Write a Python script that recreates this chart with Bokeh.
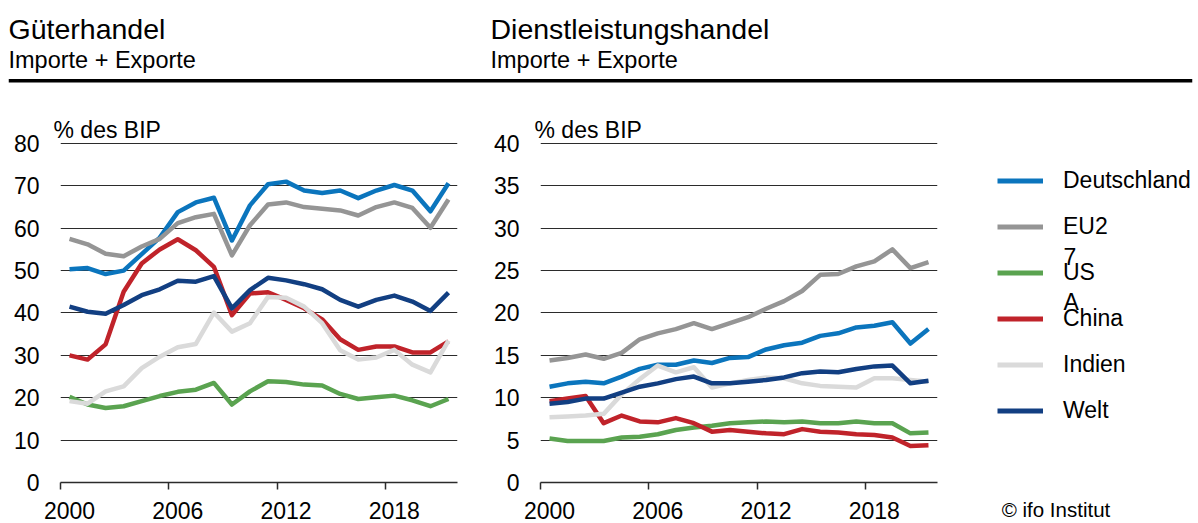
from bokeh.plotting import figure
from bokeh.layouts import column, row
from bokeh.models import Range1d, FixedTicker, Label, Legend, LegendItem, Span
from bokeh.embed import file_html
from bokeh.resources import INLINE

# ---------------- data ----------------
years = list(range(2000, 2022))
series_names = ["Deutschland", "EU27", "USA", "China", "Indien", "Welt"]
legend_labels = ["Deutschland", "EU2", "US", "China", "Indien", "Welt"]
colors = ["#0b75bd", "#959595", "#5aa350", "#c0232a", "#dadada", "#123f82"]

# Güterhandel (% des BIP)
goods = {
    "Deutschland": [50.3, 50.6, 49.2, 50.0, 53.9, 57.8, 63.8, 66.1, 67.2, 57.1, 65.4, 70.4, 71.0, 68.9, 68.3, 68.9, 67.1, 68.9, 70.2, 68.9, 64.0, 70.6],
    "EU27":        [57.5, 56.2, 54.0, 53.4, 55.7, 57.5, 61.2, 62.6, 63.4, 53.6, 60.7, 65.6, 66.1, 65.0, 64.6, 64.2, 63.0, 65.0, 66.1, 64.8, 60.1, 66.8],
    "USA":         [20.2, 18.4, 17.6, 18.0, 19.2, 20.4, 21.4, 21.9, 23.5, 18.4, 21.5, 23.9, 23.7, 23.1, 22.9, 20.9, 19.7, 20.1, 20.5, 19.4, 18.0, 19.7],
    "China":       [30.0, 29.0, 32.6, 45.0, 51.7, 55.0, 57.4, 54.8, 50.9, 39.5, 44.6, 44.9, 43.1, 41.1, 38.5, 33.8, 31.3, 32.1, 32.1, 30.7, 30.7, 33.3],
    "Indien":      [19.2, 18.6, 21.5, 22.7, 27.0, 29.7, 31.9, 32.7, 40.1, 35.6, 37.6, 43.8, 43.6, 41.5, 37.6, 31.2, 29.0, 29.5, 31.3, 27.8, 26.0, 33.5],
    "Welt":        [41.5, 40.3, 39.8, 41.9, 44.2, 45.6, 47.6, 47.4, 48.7, 41.1, 45.4, 48.3, 47.7, 46.8, 45.6, 43.1, 41.5, 43.1, 44.1, 42.7, 40.5, 44.8],
}
# Dienstleistungshandel (% des BIP)
services = {
    "Deutschland": [11.3, 11.7, 11.9, 11.7, 12.5, 13.4, 13.9, 13.9, 14.4, 14.1, 14.7, 14.8, 15.7, 16.2, 16.5, 17.3, 17.6, 18.3, 18.5, 18.9, 16.4, 18.1],
    "EU27":        [14.4, 14.7, 15.1, 14.6, 15.3, 16.9, 17.6, 18.1, 18.8, 18.1, 18.8, 19.5, 20.5, 21.4, 22.6, 24.5, 24.6, 25.5, 26.1, 27.5, 25.3, 26.0],
    "USA":         [5.2, 4.9, 4.9, 4.9, 5.3, 5.4, 5.7, 6.2, 6.5, 6.7, 7.0, 7.1, 7.2, 7.1, 7.2, 7.0, 7.0, 7.2, 7.0, 7.0, 5.8, 5.9],
    "China":       [9.6, 9.9, 10.2, 7.0, 7.9, 7.2, 7.1, 7.6, 7.0, 6.0, 6.2, 6.0, 5.8, 5.7, 6.3, 6.0, 5.9, 5.7, 5.6, 5.3, 4.3, 4.4],
    "Indien":      [7.7, 7.8, 7.9, 8.1, 10.4, 12.2, 13.8, 13.0, 13.6, 11.2, 11.7, 12.1, 12.4, 12.3, 11.7, 11.4, 11.3, 11.2, 12.3, 12.3, 12.1, 11.9],
    "Welt":        [9.3, 9.5, 9.9, 9.9, 10.6, 11.3, 11.7, 12.2, 12.5, 11.7, 11.7, 11.9, 12.1, 12.4, 12.9, 13.1, 13.0, 13.4, 13.7, 13.8, 11.7, 12.0],
}
x_tick_labels = ["2000", "2006", "2012", "2018"]
goods_yticks = [0, 10, 20, 30, 40, 50, 60, 70, 80]
services_yticks = [0, 5, 10, 15, 20, 25, 30, 35, 40]

FONT = "Liberation Sans"
GRID = "#2b2b2b"
ROW_H = 423
TOP_B = 42        # border above plot area
BOT_B = 40        # border below plot area
LW = 4.5

# ---------------- header ----------------
top = figure(width=1198, height=100, x_range=Range1d(0, 1184), y_range=Range1d(100, 0),
             output_backend="svg", toolbar_location=None,
             min_border_left=8, min_border_right=6, min_border_top=0, min_border_bottom=0,
             outline_line_color=None)
top.axis.visible = False
top.grid.visible = False
for xpos, title in [(0, "Güterhandel"), (482, "Dienstleistungshandel")]:
    top.add_layout(Label(x=xpos, y=28.3, text=title, text_font=FONT, text_font_size="28.5px",
                         text_color="black", text_baseline="middle"))
    top.add_layout(Label(x=xpos, y=59.7, text="Importe + Exporte", text_font=FONT,
                         text_font_size="23.5px", text_color="black", text_baseline="middle"))
top.add_layout(Span(location=80.3, dimension="width", line_color="black", line_width=3.5))


def make_chart(data, yticks, width, border_left, label_dx):
    ymax = yticks[-1]
    frame_h = ROW_H - TOP_B - BOT_B
    # one pixel of headroom so the top grid line is not clipped
    yend = ymax * frame_h / (frame_h - 1)
    p = figure(width=width, height=ROW_H, x_range=Range1d(2000, 2022), y_range=Range1d(0, yend),
               output_backend="svg", toolbar_location=None,
               min_border_left=border_left, min_border_right=31,
               min_border_top=TOP_B, min_border_bottom=BOT_B, outline_line_color=None)
    xs = [yr + 0.5 for yr in years]
    for name, col in zip(series_names, colors):
        p.line(xs, data[name], line_color=col, line_width=LW, line_join="round")
    # x axis: labels centred in the year slot, tick marks on slot boundary
    ticks_major = [int(t) + 0.5 for t in x_tick_labels]
    ticks_minor = [int(t) for t in x_tick_labels]
    p.xaxis.ticker = FixedTicker(ticks=ticks_major, minor_ticks=ticks_minor)
    p.xaxis.major_label_overrides = {tm: lab for tm, lab in zip(ticks_major, x_tick_labels)}
    p.xaxis.major_tick_out = 0
    p.xaxis.major_tick_in = 0
    p.xaxis.minor_tick_out = 7
    p.xaxis.minor_tick_in = 0
    p.xaxis.minor_tick_line_color = GRID
    p.xaxis.minor_tick_line_width = 1.5
    p.xaxis.axis_line_color = GRID
    p.xaxis.axis_line_width = 1.5
    p.xaxis.major_label_standoff = 12
    p.xgrid.visible = False
    # y axis
    p.yaxis.ticker = FixedTicker(ticks=yticks)
    p.yaxis.axis_line_color = None
    p.yaxis.major_tick_line_color = None
    p.yaxis.minor_tick_line_color = None
    p.yaxis.major_tick_out = 0
    p.yaxis.major_tick_in = 0
    p.yaxis.minor_tick_out = 0
    p.yaxis.minor_tick_in = 0
    p.yaxis.major_label_standoff = 21
    p.ygrid.ticker = FixedTicker(ticks=yticks)
    p.ygrid.grid_line_color = GRID
    p.ygrid.grid_line_width = 1.2
    for ax in (p.xaxis, p.yaxis):
        ax.major_label_text_font = FONT
        ax.major_label_text_font_size = "23px"
        ax.major_label_text_color = "black"
    # unit label above the plot area
    p.title.text = "% des BIP"
    p.title.text_font = FONT
    p.title.text_font_size = "23px"
    p.title.text_font_style = "normal"
    p.title.text_color = "black"
    p.title.align = "left"
    p.title.offset = label_dx
    p.title.standoff = 0
    return p


left = make_chart(goods, goods_yticks, 488, 60, -7)
right = make_chart(services, services_yticks, 480, 52, -6)

# ---------------- legend panel ----------------
leg_h = ROW_H - TOP_B - BOT_B
leg = figure(width=230, height=ROW_H, x_range=Range1d(0, 230), y_range=Range1d(leg_h, 0),
             output_backend="svg", toolbar_location=None,
             min_border_left=0, min_border_right=0, min_border_top=TOP_B, min_border_bottom=BOT_B,
             outline_line_color=None)
leg.yaxis.visible = False
leg.grid.visible = False
# legend proxies (series lie outside this panel's x range, only their swatches show)
xs_leg = [yr + 0.5 for yr in years]
proxies = [leg.line(xs_leg, services[name], line_color=col, line_width=5)
           for name, col in zip(series_names, colors)]
legend = Legend(items=[LegendItem(label=lab, renderers=[r]) for lab, r in zip(legend_labels, proxies)],
                location=(29, 58), glyph_width=46, glyph_height=27, label_height=27,
                label_standoff=20, spacing=19, padding=0, margin=0,
                border_line_color=None, background_fill_alpha=0,
                label_text_font=FONT, label_text_font_size="23px", label_text_color="black")
leg.add_layout(legend)
# wrapped remainder of the legend labels, as in the original
for txt, ypos in [("7", 114.0), ("A", 159.5)]:
    leg.add_layout(Label(x=95, y=ypos, text=txt, text_font=FONT, text_font_size="23px",
                         text_color="black", text_baseline="middle"))
# source note, set as the panel's only axis label
credit_pos = 87.5
leg.xaxis.ticker = FixedTicker(ticks=[credit_pos])
leg.xaxis.major_label_overrides = {credit_pos: "© ifo Institut"}
leg.xaxis.axis_line_color = None
leg.xaxis.major_tick_line_color = None
leg.xaxis.minor_tick_line_color = None
leg.xaxis.major_tick_out = 0
leg.xaxis.major_tick_in = 0
leg.xaxis.minor_tick_out = 0
leg.xaxis.minor_tick_in = 0
leg.xaxis.major_label_standoff = 15
leg.xaxis.major_label_text_font = FONT
leg.xaxis.major_label_text_font_size = "20.5px"
leg.xaxis.major_label_text_color = "black"

layout = column(top, row(left, right, leg))
open("out.html", "w").write(file_html(layout, INLINE))
